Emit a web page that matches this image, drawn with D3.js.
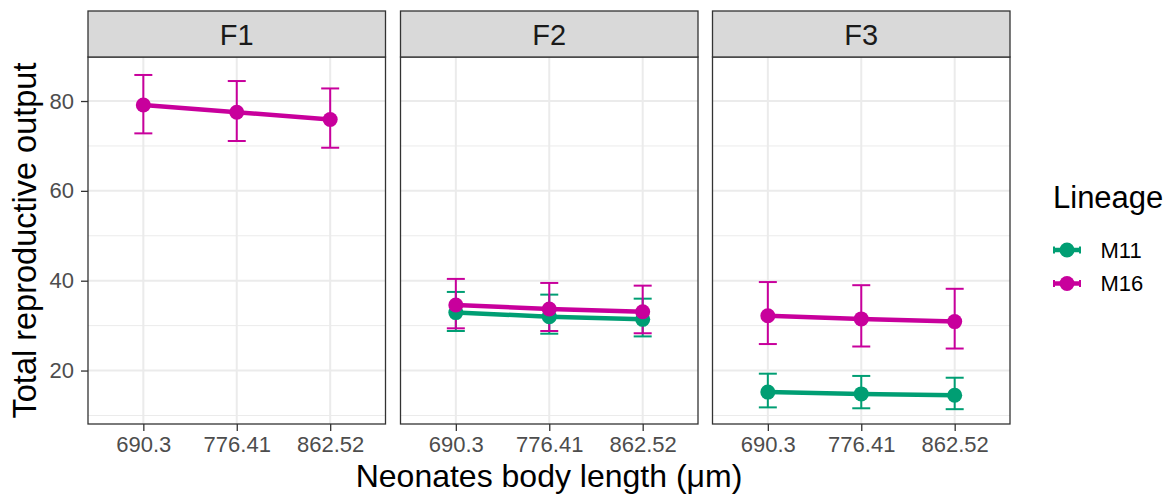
<!DOCTYPE html>
<html>
<head>
<meta charset="utf-8">
<script src="https://cdn.jsdelivr.net/npm/d3@7"></script>
<style>
  body { margin: 0; background: #fff; }
  svg { display: block; font-family: "Liberation Sans", Arial, sans-serif; }
</style>
</head>
<body>
<div id="chart"></div>
<script>
// data
const panels = ["F1", "F2", "F3"];
const lineages = ["M11", "M16"];
const sizes = [690.3, 776.41, 862.52];

// mean, lower, upper for each panel / lineage (null = absent)
const meanM11 = { F1: null, F2: [32.9, 32.0, 31.4], F3: [15.2, 14.8, 14.5] };
const lowM11 = { F1: null, F2: [28.8, 28.2, 27.6], F3: [11.8, 11.6, 11.4] };
const highM11 = { F1: null, F2: [37.5, 36.9, 36.0], F3: [19.3, 18.8, 18.4] };

const meanM16 = { F1: [79.1, 77.5, 75.9], F2: [34.6, 33.7, 33.1], F3: [32.2, 31.5, 30.9] };
const lowM16 = { F1: [72.8, 71.1, 69.6], F2: [29.4, 28.8, 28.3], F3: [25.9, 25.35, 24.9] };
const highM16 = { F1: [85.8, 84.45, 82.8], F2: [40.4, 39.5, 38.9], F3: [39.7, 39.0, 38.2] };

const yMajor = [20, 40, 60, 80];
const yMinor = [10, 30, 50, 70];

const colors = { M11: "#009E73", M16: "#C8009C" };

const width = 1176, height = 497;
const panelX = [88, 400.5, 712.5];
const panelW = 297.5;
const plotTop = 57, plotBottom = 424;
const stripTop = 11;

const rows = [];
panels.forEach(p => {
  lineages.forEach(l => {
    const m = l === "M11" ? meanM11 : meanM16;
    const lo = l === "M11" ? lowM11 : lowM16;
    const hi = l === "M11" ? highM11 : highM16;
    if (!m[p]) return;
    sizes.forEach((s, i) => rows.push({ panel: p, lineage: l, size: s, mean: m[p][i], low: lo[p][i], high: hi[p][i] }));
  });
});

const y = d3.scaleLinear().domain([8.1, 89.8]).range([plotBottom, plotTop]);
const x = d3.scaleLinear().domain([639.3, 913.5]).range([0, panelW]);

const svg = d3.select("#chart").append("svg")
  .attr("width", width).attr("height", height);

panels.forEach((p, pi) => {
  const g = svg.append("g").attr("transform", `translate(${panelX[pi]},0)`);

  // grid
  g.selectAll(".minor").data(yMinor).join("line")
    .attr("x1", 0).attr("x2", panelW)
    .attr("y1", d => y(d)).attr("y2", d => y(d))
    .attr("stroke", "#EBEBEB").attr("stroke-width", 1);
  g.selectAll(".major").data(yMajor).join("line")
    .attr("x1", 0).attr("x2", panelW)
    .attr("y1", d => y(d)).attr("y2", d => y(d))
    .attr("stroke", "#EBEBEB").attr("stroke-width", 2);
  g.selectAll(".vmajor").data(sizes).join("line")
    .attr("x1", d => x(d)).attr("x2", d => x(d))
    .attr("y1", plotTop).attr("y2", plotBottom)
    .attr("stroke", "#EBEBEB").attr("stroke-width", 2);

  const pd = rows.filter(r => r.panel === p);

  // error bars
  const eb = g.selectAll(".eb").data(pd).join("g")
    .attr("stroke", d => colors[d.lineage]).attr("stroke-width", 2);
  eb.append("line")
    .attr("x1", d => x(d.size)).attr("x2", d => x(d.size))
    .attr("y1", d => y(d.low)).attr("y2", d => y(d.high));
  eb.append("line")
    .attr("x1", d => x(d.size) - 9).attr("x2", d => x(d.size) + 9)
    .attr("y1", d => y(d.low)).attr("y2", d => y(d.low));
  eb.append("line")
    .attr("x1", d => x(d.size) - 9).attr("x2", d => x(d.size) + 9)
    .attr("y1", d => y(d.high)).attr("y2", d => y(d.high));

  // lines
  const line = d3.line().x(d => x(d.size)).y(d => y(d.mean));
  lineages.forEach(l => {
    const ld = pd.filter(r => r.lineage === l);
    if (!ld.length) return;
    g.append("path").datum(ld)
      .attr("d", line).attr("fill", "none")
      .attr("stroke", colors[l]).attr("stroke-width", 4.5);
  });

  // points
  g.selectAll(".pt").data(pd).join("circle")
    .attr("cx", d => x(d.size)).attr("cy", d => y(d.mean))
    .attr("r", 7.5).attr("fill", d => colors[d.lineage]);

  // panel border
  g.append("rect").attr("x", 0).attr("y", plotTop).attr("width", panelW).attr("height", plotBottom - plotTop)
    .attr("fill", "none").attr("stroke", "#333").attr("stroke-width", 1.3);

  // strip
  g.append("rect").attr("x", 0).attr("y", stripTop).attr("width", panelW).attr("height", plotTop - stripTop)
    .attr("fill", "#D9D9D9").attr("stroke", "#333").attr("stroke-width", 1.3);
  g.append("text").attr("x", panelW / 2).attr("y", 45)
    .attr("text-anchor", "middle").attr("font-size", 29).attr("fill", "#1A1A1A").text(p);

  // x axis
  const xa = g.append("g").attr("transform", `translate(0,${plotBottom})`)
    .call(d3.axisBottom(x).tickValues(sizes).tickFormat(d => String(d)).tickSize(7).tickPadding(5));
  xa.attr("font-family", null).attr("font-size", 22);
  xa.select(".domain").remove();
  xa.selectAll("line").attr("stroke", "#333").attr("stroke-width", 1.3);
  xa.selectAll("text").attr("fill", "#4D4D4D");
});

// y axis on the first panel
const ya = svg.append("g").attr("transform", `translate(${panelX[0]},0)`)
  .call(d3.axisLeft(y).tickValues(yMajor).tickSize(7).tickPadding(7));
ya.attr("font-family", null).attr("font-size", 22);
ya.select(".domain").remove();
ya.selectAll("line").attr("stroke", "#333").attr("stroke-width", 1.3);
ya.selectAll("text").attr("fill", "#4D4D4D");

// axis titles
svg.append("text").attr("x", (panelX[0] + panelX[2] + panelW) / 2).attr("y", 487)
  .attr("text-anchor", "middle").attr("font-size", 32).attr("fill", "#000")
  .text("Neonates body length (μm)");
svg.append("text").attr("transform", `translate(36,${(plotTop + plotBottom) / 2}) rotate(-90)`)
  .attr("text-anchor", "middle").attr("font-size", 32.5).attr("fill", "#000")
  .text("Total reproductive output");

// legend
const lg = svg.append("g");
lg.append("text").attr("x", 1053).attr("y", 208).attr("font-size", 31).attr("fill", "#000").text("Lineage");
const keyY = [250, 283.5];
lineages.forEach((l, i) => {
  const k = lg.append("g").attr("transform", `translate(0,${keyY[i]})`);
  k.append("line").attr("x1", 1053).attr("x2", 1081).attr("y1", 0).attr("y2", 0)
    .attr("stroke", colors[l]).attr("stroke-width", 4.5);
  [1054, 1080].forEach(xx => k.append("line").attr("x1", xx).attr("x2", xx).attr("y1", -3.5).attr("y2", 3.5)
    .attr("stroke", colors[l]).attr("stroke-width", 2));
  k.append("circle").attr("cx", 1067).attr("cy", 0).attr("r", 7.5).attr("fill", colors[l]);
  k.append("text").attr("x", 1100.5).attr("y", 7.5).attr("font-size", 22).attr("fill", "#000").text(l);
});
</script>
</body>
</html>
